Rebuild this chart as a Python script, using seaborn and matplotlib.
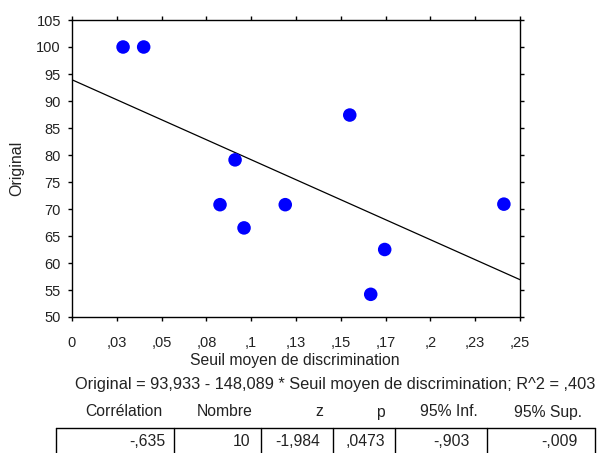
import numpy as np
import pandas as pd
import matplotlib
matplotlib.use("Agg")
import matplotlib.pyplot as plt
from matplotlib.lines import Line2D
import seaborn as sns

# Data
seuil = [0.0285, 0.040, 0.091, 0.0826, 0.096, 0.119, 0.155, 0.1745, 0.1667, 0.241]
original = [100.0, 100.0, 79.1, 70.8, 66.5, 70.8, 87.4, 62.5, 54.2, 70.9]

# Regression reported under the chart
intercept = 93.933
slope = -148.089
r2_label = ",403"

x_ticks = [0, 0.025, 0.05, 0.075, 0.1, 0.125, 0.15, 0.175, 0.2, 0.225, 0.25]
x_tick_labels = ["0", ",03", ",05", ",08", ",1", ",13", ",15", ",17", ",2", ",23", ",25"]
y_ticks = [50, 55, 60, 65, 70, 75, 80, 85, 90, 95, 100, 105]

table_headers = ["Corrélation", "Nombre", "z", "p", "95% Inf.", "95% Sup."]
table_values = ["-,635", "10", "-1,984", ",0473", "-,903", "-,009"]

sns.set_theme(style="ticks")
plt.rcParams["font.family"] = ["Liberation Sans", "DejaVu Sans"]

W, H = 600, 453
fig = plt.figure(figsize=(6.0, 4.53), dpi=100)
ax = fig.add_axes([72 / W, 1 - 317 / H, 448 / W, 297 / H])

df = pd.DataFrame({"seuil": seuil, "original": original})
sns.scatterplot(data=df, x="seuil", y="original", ax=ax, color="#0000ff",
                s=95, edgecolor="none", zorder=3)

# Fitted line across the axis range
fit_x = np.array([x_ticks[0], x_ticks[-1]])
fit_df = pd.DataFrame({"seuil": fit_x, "original": intercept + slope * fit_x})
sns.lineplot(data=fit_df, x="seuil", y="original", ax=ax, color="black",
             linewidth=0.9, zorder=2)

ax.set_xlim(x_ticks[0], x_ticks[-1])
ax.set_ylim(y_ticks[0], y_ticks[-1])
ax.set_xticks(x_ticks)
ax.set_xticklabels(x_tick_labels)
ax.set_yticks(y_ticks)
ax.set_yticklabels([str(v) for v in y_ticks])

for sp in ax.spines.values():
    sp.set_visible(True)
    sp.set_color("black")
    sp.set_linewidth(1.0)

text_col = "#222222"
ax.tick_params(axis="both", direction="out", length=3, width=1.0, color="black",
               labelsize=10.5, labelcolor=text_col, top=True, right=True,
               labeltop=False, labelright=False)
ax.tick_params(axis="x", pad=11)
ax.tick_params(axis="y", pad=5)

ax.set_xlabel("")
ax.set_ylabel("")
fig.text(17 / W, 1 - 168 / H, "Original", rotation=90, ha="center", va="center",
         fontsize=11.5, color=text_col)
fig.text(295 / W, 1 - 361 / H, "Seuil moyen de discrimination", ha="center",
         va="center", fontsize=11.3, color=text_col)
fig.text(335 / W, 1 - 385 / H,
         f"Original = {intercept:.3f}".replace(".", ",")
         + f" - {abs(slope):.3f}".replace(".", ",")
         + f" * Seuil moyen de discrimination; R^2 = {r2_label}",
         ha="center", va="center", fontsize=11.8, color=text_col)

# Statistics table below the chart
col_edges = [56, 174, 261, 333, 395, 487, 595]
header_right = [162, 253, 323, 385, 478, 582]
value_right = [165, 250, 320, 385, 470, 578]
for hdr, xr in zip(table_headers, header_right):
    fig.text(xr / W, 1 - 412 / H, hdr, ha="right", va="center", fontsize=11.3, color=text_col)
for val, xr in zip(table_values, value_right):
    fig.text(xr / W, 1 - 442 / H, val, ha="right", va="center", fontsize=11.3, color=text_col)

box_top, box_bot = 1 - 428 / H, 1 - 460 / H
fig.add_artist(Line2D([col_edges[0] / W, col_edges[-1] / W], [box_top, box_top],
                      color="black", linewidth=1.0))
for xe in col_edges:
    fig.add_artist(Line2D([xe / W, xe / W], [box_top, box_bot], color="black", linewidth=1.0))

fig.savefig("out.png", dpi=100)
